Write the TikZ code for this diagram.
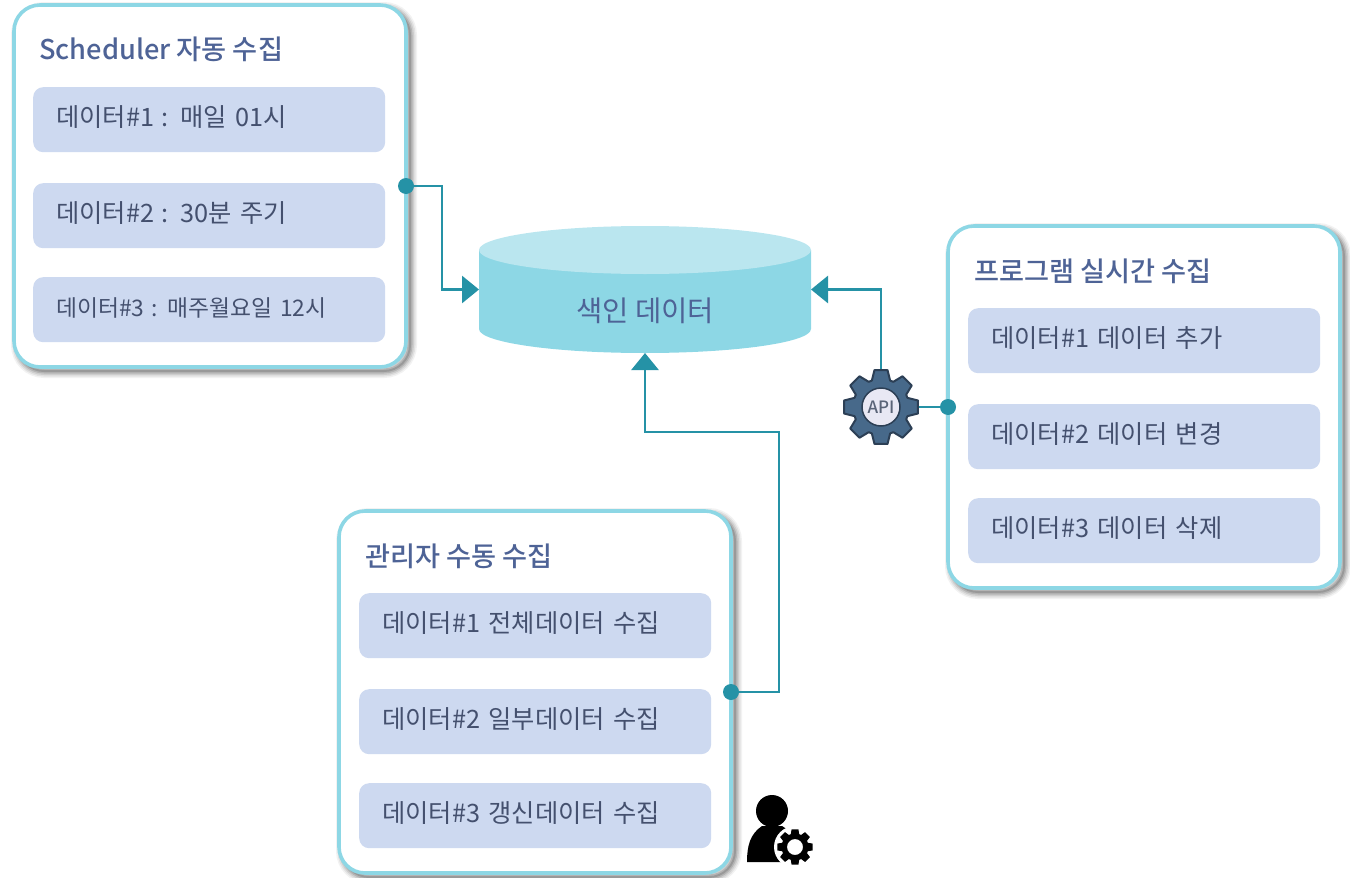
\documentclass[tikz,border=0pt]{standalone}
\usepackage{fontspec}
\setmainfont{Noto Sans CJK KR}
\newfontfamily\medf{Noto Sans CJK KR Medium}
\usetikzlibrary{arrows.meta}
\definecolor{teal}{HTML}{2592A6}
\definecolor{lineb}{HTML}{8DD7E5}
\definecolor{dbtop}{HTML}{BAE6EF}
\definecolor{rowc}{HTML}{CDD9F0}
\definecolor{ttl}{HTML}{4E6396}
\definecolor{bodyt}{HTML}{44506E}
\definecolor{gearf}{HTML}{47698A}
\definecolor{geard}{HTML}{2C3F55}
\definecolor{hubf}{HTML}{E8E8F4}
\definecolor{apit}{HTML}{5A6478}
\newcommand{\colonsep}{\hspace{-1pt}:\hspace{-1pt}}
\tikzset{
  x=1pt,y=-1pt,
  panel/.style={rectangle,rounded corners=26pt,fill=white,draw=lineb,line width=3.6pt,
    minimum width=392pt,minimum height=362pt,anchor=north west,outer sep=0pt,inner sep=0pt,
    preaction={draw=black,opacity=.05,line width=14pt,transform canvas={xshift=4pt,yshift=-4pt}},
    preaction={draw=black,opacity=.07,line width=11pt,transform canvas={xshift=4pt,yshift=-4pt}},
    preaction={draw=black,opacity=.09,line width=8pt,transform canvas={xshift=4pt,yshift=-4pt}},
    preaction={draw=black,opacity=.12,line width=5pt,transform canvas={xshift=4pt,yshift=-4pt}},
    preaction={draw=black,opacity=.15,line width=2pt,transform canvas={xshift=4pt,yshift=-4pt}}},
  rowbox/.style={rectangle,rounded corners=10pt,fill=rowc,minimum width=352pt,minimum height=65pt,
    anchor=north west,inner xsep=23pt,inner ysep=0pt,text width=306pt,align=left,
    text height=27pt,text depth=13.6pt,
    text=bodyt,font=\fontsize{25.3}{28}\selectfont},
  smallrow/.style={rowbox,font=\fontsize{22.8}{26}\selectfont},
  title/.style={anchor=west,inner sep=0pt,text=ttl,font=\medf\fontsize{27.2}{30}\selectfont},
  conn/.style={draw=teal,line width=2.8pt,line join=miter},
  arr/.style={conn,-{Triangle[length=17pt,width=27pt,fill=teal]}},
  dot/.style={circle,fill=teal,minimum size=16pt,inner sep=0pt},
  dbframe/.style={rectangle,minimum width=332pt,minimum height=127pt,inner sep=0pt,outer sep=0pt},
  dbtext/.style={inner sep=0pt,text=ttl,font=\fontsize{28.6}{32}\selectfont},
}
\begin{document}
\begin{tikzpicture}
\useasboundingbox (0,0) rectangle (1350,878);
% panels
\node[panel] (pa) at (14,5) {};
\node[panel] (pb) at (948,226) {};
\node[panel] (pc) at (339,511) {};
% titles
\node[title] (ta) at (39,49) {Scheduler 자동 수집};
\node[title] (tb) at (974,271) {프로그램 실시간 수집};
\node[title] (tc) at (365,556) {관리자 수동 수집};
% rows
\node[rowbox] (a1) at (33,87) {데이터\#1 \colonsep{} 매일 01시};
\node[rowbox] (a2) at (33,183) {데이터\#2 \colonsep{} 30분 주기};
\node[smallrow] (a3) at (33,277) {데이터\#3 \colonsep{} 매주월요일 12시};
\node[rowbox] (b1) at (968,308) {데이터\#1 데이터 추가};
\node[rowbox] (b2) at (968,404) {데이터\#2 데이터 변경};
\node[rowbox] (b3) at (968,498) {데이터\#3 데이터 삭제};
\node[rowbox] (c1) at (359,593) {데이터\#1 전체데이터 수집};
\node[rowbox] (c2) at (359,689) {데이터\#2 일부데이터 수집};
\node[rowbox] (c3) at (359,783) {데이터\#3 갱신데이터 수집};
% database
\fill[lineb] (479,250) -- (479,329) arc[start angle=180,end angle=0,x radius=166,y radius=24] -- (811,250) -- cycle;
\fill[dbtop] (645,250) ellipse (166 and 24);
\node[dbframe] (store) at (645,289.5) {};
\node[dbtext] (storetext) at (645,311) {색인 데이터};
% API gear
\coordinate (gc) at (881,407);
\begin{scope}[shift={(gc)}]
\draw[fill=gearf,draw=geard,line width=2pt,line join=round]
  (-19:28) \foreach \a in {0,45,...,315} {
    -- (\a-19:28) -- (\a-10:37.5) -- (\a+10:37.5) -- (\a+19:28)
  } -- cycle;
\end{scope}
\node[circle,fill=hubf,draw=geard,line width=1.5pt,minimum size=38pt,inner sep=0pt,text=apit,font=\medf\fontsize{17}{19}\selectfont] (api) at (gc) {API};
\node[circle,minimum size=76pt,inner sep=0pt] (gear) at (gc) {};
% connectors
\coordinate (bend) at (645,432);
\draw[arr] (pa.east) -- ++(36,0) |- (store.west);
\draw[arr] (gear.north) |- (store.east);
\draw[conn] (gear.east) -- (pb.west);
\draw[arr] (pc.east) -- ++(48,0) |- (bend) -- (store.south);
\node[dot] (da) at (pa.east) {};
\node[dot] (db1) at (pb.west) {};
\node[dot] (dc) at (pc.east) {};
% person icon
\fill (772,811) circle (16);
\fill (747,862) .. controls (747,846) and (750,834) .. (762,826) -- (782,826) .. controls (792,832) and (796,838) .. (798,850) -- (790,862) -- cycle;
\fill[white] (795,847) circle (21);
\begin{scope}[shift={(795,847)}]
\fill[even odd rule]
  (-18:13.5) \foreach \a in {0,45,...,315} {
    -- (\a-18:13.5) -- (\a-11:18) -- (\a+11:18) -- (\a+18:13.5)
  } -- cycle
  (0,0) circle (8);
\end{scope}
\end{tikzpicture}
\end{document}
